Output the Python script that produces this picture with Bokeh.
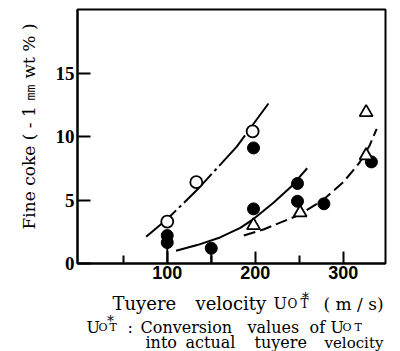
from bokeh.plotting import figure
from bokeh.models import Range1d, FixedTicker
from bokeh.layouts import column
from bokeh.core.properties import value
from bokeh.embed import file_html
from bokeh.resources import INLINE

# ---- data ----
open_x = [100, 133, 197]
open_y = [3.3, 6.4, 10.4]
filled_x = [100, 100, 150, 198, 198, 248, 248, 278, 332]
filled_y = [2.2, 1.65, 1.2, 9.1, 4.3, 6.3, 4.9, 4.7, 8.0]
tri_x = [198, 251, 326, 326]
tri_y = [3.0, 4.0, 11.9, 8.5]
curve1_x = [76, 100, 134, 179, 215]
curve1_y = [2.1, 3.5, 5.8, 9.2, 12.6]
curve2_x = [110, 134, 160, 183, 198, 221, 240, 259]
curve2_y = [1.0, 1.45, 2.05, 2.8, 3.5, 4.8, 6.0, 7.5]
curve3_x = [187, 210, 249, 277, 300, 318, 330, 338]
curve3_y = [2.2, 2.7, 3.8, 5.0, 6.4, 7.9, 9.3, 10.6]
stem_x = [100, 150]
stem_top = [1.65, 1.2]
x_ticks = [100, 200, 300]
x_minor = [50, 150, 250]
y_ticks = [0, 5, 10, 15]
y_title = "\u2003\u2002Fine coke ( - 1 ㎜  wt % )"

SERIF = "DejaVu Serif"

# ---- main chart ----
W, H_TOP, H_ALL = 400, 286, 351
FL, FR, FT, FB = 77, 385, 9, 263

p = figure(width=W, height=H_TOP, output_backend="svg", toolbar_location=None,
           x_range=Range1d(-2, 348), y_range=Range1d(0, 20),
           min_border_left=FL, min_border_right=W - FR,
           min_border_top=FT, min_border_bottom=H_TOP - FB)
p.xgrid.visible = False
p.ygrid.visible = False
p.outline_line_color = "black"
p.outline_line_width = 2
p.background_fill_color = "white"
p.border_fill_color = "white"

for ax in (p.xaxis[0], p.yaxis[0]):
    ax.axis_line_width = 2
    ax.axis_line_color = "black"
    ax.major_tick_line_width = 2
    ax.major_tick_line_color = "black"
    ax.major_tick_out = 0
    ax.minor_tick_out = 0
    ax.major_label_text_color = "black"

p.xaxis.ticker = FixedTicker(ticks=x_ticks, minor_ticks=x_minor)
p.xaxis.major_tick_in = 12
p.xaxis.minor_tick_in = 8
p.xaxis.minor_tick_line_width = 2
p.xaxis.minor_tick_line_color = "black"
p.xaxis.major_label_text_font = "Liberation Sans"
p.xaxis.major_label_text_font_style = "bold"
p.xaxis.major_label_text_font_size = "18px"
p.xaxis.major_label_standoff = 2

p.yaxis.ticker = FixedTicker(ticks=y_ticks, minor_ticks=[])
p.yaxis.major_tick_in = 13
p.yaxis.minor_tick_line_color = None
p.yaxis.major_label_text_font = "Liberation Serif"
p.yaxis.major_label_text_font_style = "bold"
p.yaxis.major_label_text_font_size = "19px"
p.yaxis.major_label_standoff = 3
p.yaxis.axis_label = y_title
p.yaxis.axis_label_text_font = SERIF
p.yaxis.axis_label_text_font_style = "normal"
p.yaxis.axis_label_text_font_size = "17px"
p.yaxis.axis_label_text_color = "black"
p.yaxis.axis_label_standoff = 14

# stems
p.segment(x0=stem_x, y0=[0] * len(stem_x), x1=stem_x, y1=stem_top,
          line_color="black", line_width=2)

# curves
p.line(curve1_x, curve1_y, line_color="black", line_width=2, line_dash="40 4 3 4")
p.line(curve2_x, curve2_y, line_color="black", line_width=2)
p.line(curve3_x, curve3_y, line_color="black", line_width=2, line_dash="12 5")

# markers
p.scatter(filled_x, filled_y, marker="circle", size=12, fill_color="black",
          line_color="black", line_width=1)
p.scatter(open_x, open_y, marker="circle", size=12, fill_color="white",
          line_color="black", line_width=1.8)
p.scatter(tri_x, tri_y, marker="triangle", size=13, fill_color="white",
          line_color="black", line_width=1.8)

# ---- caption strip (x title and footnote); coordinates are page pixels ----
q = figure(width=W, height=H_ALL - H_TOP, output_backend="svg", toolbar_location=None,
           x_range=Range1d(FL, FR), y_range=Range1d(H_ALL, H_TOP),
           x_axis_location=None, y_axis_location=None,
           min_border_left=FL, min_border_right=W - FR,
           min_border_top=0, min_border_bottom=0)
q.xgrid.visible = False
q.ygrid.visible = False
q.outline_line_color = None
q.background_fill_color = "white"
q.border_fill_color = "white"

# (text, left x px, baseline y px, font size px)
caption = [
    ("Tuyere", 112, 303, 18),
    ("velocity", 195, 303, 18),
    ("U", 273, 303, 16),
    ("O", 287, 303, 12),
    ("T", 300, 303, 12),
    ("( m / s)", 323, 303, 17),
    ("U", 86, 327, 16),
    ("O", 98, 327, 11),
    ("T", 109, 327, 11),
    (":", 127, 327, 16),
    ("Conversion", 140, 327, 16),
    ("values", 247, 327, 16),
    ("of", 309, 327, 16),
    ("U", 330, 327, 16),
    ("O", 342, 327, 11),
    ("T", 354, 327, 11),
    ("into", 145, 342, 16),
    ("actual", 185, 342, 16),
    ("tuyere", 254, 342, 16),
    ("velocity", 324, 342, 15),
]
for size in sorted({c[3] for c in caption}):
    sel = [c for c in caption if c[3] == size]
    q.text(x=[c[1] for c in sel], y=[c[2] for c in sel], text=[c[0] for c in sel],
           text_font=value(SERIF), text_font_size=f"{size}px",
           text_align="left", text_baseline="alphabetic", text_color="black")

# asterisks (centre x, baseline y)
stars = [(305, 297), (110, 320)]
q.text(x=[s[0] for s in stars], y=[s[1] for s in stars], text=["*", "*"],
       text_font=value(SERIF), text_font_size="14px",
       text_align="center", text_baseline="alphabetic", text_color="black")

layout = column(p, q, spacing=0)
open("out.html", "w").write(file_html(layout, INLINE))
